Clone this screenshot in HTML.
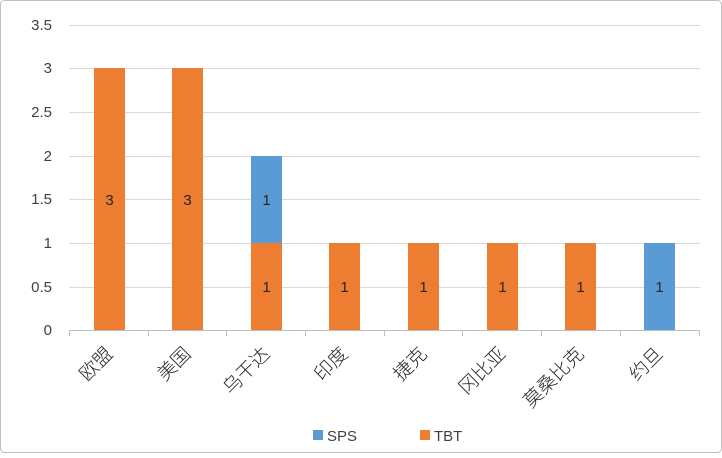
<!DOCTYPE html>
<html><head><meta charset="utf-8"><style>
body{margin:0;background:#fff}
svg text{font-family:"Liberation Sans","Noto Sans CJK SC",sans-serif}
</style></head><body>
<svg width="722" height="453" viewBox="0 0 722 453" xmlns="http://www.w3.org/2000/svg">
<rect x="0.5" y="0.5" width="721" height="452" rx="4" fill="#fff" stroke="#bfbfbf"/>
<g stroke="#d9d9d9" stroke-width="1">
<line x1="69" x2="700" y1="25.5" y2="25.5"/>
<line x1="69" x2="700" y1="68.5" y2="68.5"/>
<line x1="69" x2="700" y1="112.5" y2="112.5"/>
<line x1="69" x2="700" y1="156.5" y2="156.5"/>
<line x1="69" x2="700" y1="199.5" y2="199.5"/>
<line x1="69" x2="700" y1="243.5" y2="243.5"/>
<line x1="69" x2="700" y1="287.5" y2="287.5"/>
</g>
<g font-size="15" fill="#404040" text-anchor="end">
<text x="52" y="30">3.5</text><text x="52" y="73">3</text><text x="52" y="117">2.5</text><text x="52" y="161">2</text><text x="52" y="204">1.5</text><text x="52" y="248">1</text><text x="52" y="292">0.5</text><text x="52" y="335">0</text>
</g>
<g>
<rect x="94" y="68" width="31" height="262" fill="#ed7d31"/>
<rect x="172" y="68" width="31" height="262" fill="#ed7d31"/>
<rect x="251" y="243" width="31" height="87" fill="#ed7d31"/>
<rect x="251" y="156" width="31" height="87" fill="#5b9bd5"/>
<rect x="329" y="243" width="31" height="87" fill="#ed7d31"/>
<rect x="408" y="243" width="31" height="87" fill="#ed7d31"/>
<rect x="487" y="243" width="31" height="87" fill="#ed7d31"/>
<rect x="565" y="243" width="31" height="87" fill="#ed7d31"/>
<rect x="644" y="243" width="31" height="87" fill="#5b9bd5"/>
</g>
<g font-size="15" fill="#262626" text-anchor="middle">
<text x="109.5" y="205">3</text><text x="187.5" y="205">3</text>
<text x="266.5" y="205">1</text><text x="266.5" y="292">1</text>
<text x="344.5" y="292">1</text><text x="423.5" y="292">1</text><text x="502.5" y="292">1</text><text x="580.5" y="292">1</text><text x="659.5" y="292">1</text>
</g>
<g stroke="#bfbfbf">
<line x1="69" x2="700" y1="330.5" y2="330.5"/>
<line x1="69.5" x2="69.5" y1="330" y2="336"/><line x1="148.5" x2="148.5" y1="330" y2="336"/><line x1="226.5" x2="226.5" y1="330" y2="336"/><line x1="305.5" x2="305.5" y1="330" y2="336"/><line x1="384.5" x2="384.5" y1="330" y2="336"/><line x1="462.5" x2="462.5" y1="330" y2="336"/><line x1="541.5" x2="541.5" y1="330" y2="336"/><line x1="620.5" x2="620.5" y1="330" y2="336"/><line x1="699.5" x2="699.5" y1="330" y2="336"/>
</g>
<g font-size="19" fill="#262626" text-anchor="end" font-weight="300">
<text transform="translate(114,355) rotate(-45)">欧盟</text>
<text transform="translate(192,355) rotate(-45)">美国</text>
<text transform="translate(271,355) rotate(-45)">乌干达</text>
<text transform="translate(349,355) rotate(-45)">印度</text>
<text transform="translate(428,355) rotate(-45)">捷克</text>
<text transform="translate(507,355) rotate(-45)">冈比亚</text>
<text transform="translate(585,355) rotate(-45)">莫桑比克</text>
<text transform="translate(664,355) rotate(-45)">约旦</text>
</g>
<rect x="313" y="430" width="10" height="10" fill="#5b9bd5"/>
<text x="327" y="441" font-size="15" fill="#404040">SPS</text>
<rect x="420" y="430" width="10" height="10" fill="#ed7d31"/>
<text x="434" y="441" font-size="15" fill="#404040">TBT</text>
</svg>
</body></html>
